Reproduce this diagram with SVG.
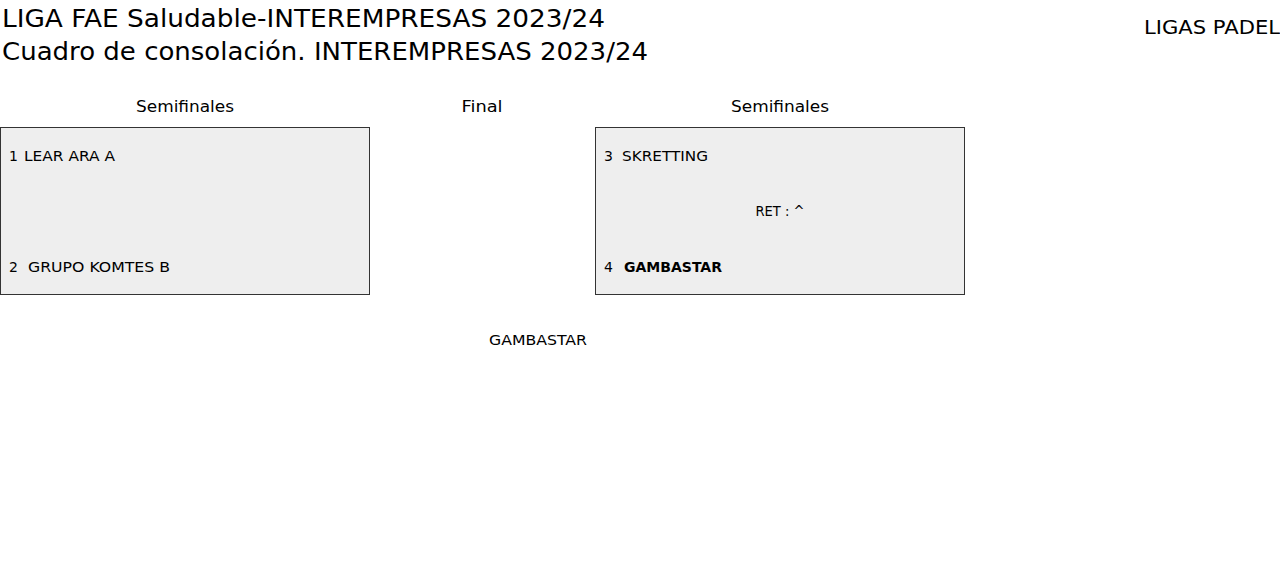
<svg xmlns="http://www.w3.org/2000/svg" width="1280" height="580" viewBox="0 0 1280 580">
<style>
text{font-family:"DejaVu Sans","Open Sans",sans-serif;fill:#000}
.title{font-size:24px;font-weight:500}
.head{font-size:16px;font-weight:500;text-anchor:middle}
.t{font-size:14px}
.b{font-weight:bold}
.box{fill:#eeeeee;stroke:#333333;stroke-width:1}
</style>
<rect width="1280" height="580" fill="#ffffff"/>
<g id="header">
<text class="title" x="2" y="27" textLength="603" lengthAdjust="spacingAndGlyphs">LIGA FAE Saludable-INTEREMPRESAS 2023/24</text>
<text class="title" x="2" y="60" textLength="646" lengthAdjust="spacingAndGlyphs">Cuadro de consolación. INTEREMPRESAS 2023/24</text>
<text x="1280" y="34" style="font-size:19px;text-anchor:end" textLength="136" lengthAdjust="spacingAndGlyphs">LIGAS PADEL</text>
</g>
<g id="round-heads">
<text class="head" x="185" y="112" textLength="98" lengthAdjust="spacingAndGlyphs">Semifinales</text>
<text class="head" x="482" y="112" textLength="41" lengthAdjust="spacingAndGlyphs">Final</text>
<text class="head" x="780" y="112" textLength="98" lengthAdjust="spacingAndGlyphs">Semifinales</text>
</g>
<g id="match-1">
<rect class="box" x="0.5" y="127.5" width="369" height="167"/>
<text class="t" x="9" y="161">1</text>
<text class="t" x="24" y="161" textLength="91" lengthAdjust="spacingAndGlyphs">LEAR ARA A</text>
<text class="t" x="9" y="272">2</text>
<text class="t" x="28" y="272" textLength="142" lengthAdjust="spacingAndGlyphs">GRUPO KOMTES B</text>
</g>
<g id="match-2">
<rect class="box" x="595.5" y="127.5" width="369" height="167"/>
<text class="t" x="604" y="161">3</text>
<text class="t" x="622" y="161" textLength="86" lengthAdjust="spacingAndGlyphs">SKRETTING</text>
<text class="t" x="780" y="216" style="text-anchor:middle" textLength="49" lengthAdjust="spacingAndGlyphs">RET : ^</text>
<text class="t" x="604" y="272">4</text>
<text class="t b" x="624" y="272" textLength="98" lengthAdjust="spacingAndGlyphs">GAMBASTAR</text>
</g>
<g id="winner">
<text class="t" x="538" y="345" style="text-anchor:middle" textLength="98" lengthAdjust="spacingAndGlyphs">GAMBASTAR</text>
</g>
<g id="connectors"></g>
</svg>
